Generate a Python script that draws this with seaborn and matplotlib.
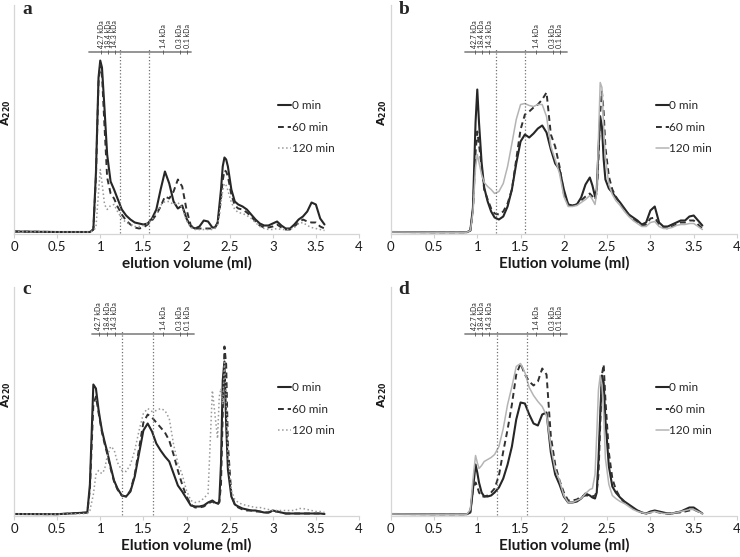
import numpy as np
import pandas as pd
import matplotlib
matplotlib.use("Agg")
import matplotlib.pyplot as plt
import seaborn as sns

# elution volume grid (ml) shared by all chromatograms
X_ML = [0, 0.5, 0.85, 0.88, 0.92, 0.95, 0.98, 1.0, 1.02, 1.05,
        1.08, 1.12, 1.16, 1.2, 1.25, 1.3, 1.35, 1.4, 1.45, 1.5,
        1.55, 1.6, 1.65, 1.7, 1.75, 1.8, 1.85, 1.9, 1.95, 2.0,
        2.05, 2.1, 2.15, 2.2, 2.25, 2.3, 2.33, 2.36,
        2.38, 2.4, 2.42, 2.44, 2.46, 2.48, 2.52, 2.56, 2.6, 2.65,
        2.7, 2.75, 2.8, 2.85, 2.9, 2.95, 3.0, 3.05, 3.1, 3.15,
        3.2, 3.25, 3.3, 3.35, 3.4, 3.45, 3.5, 3.55, 3.6]

# A220 (arbitrary units)
A_0 = [1, 0.5, 0.5, 0.5, 3, 60, 155, 172, 165, 123,
       78, 51, 43, 34, 23, 17, 13, 10, 9, 8,
       9, 14, 23, 43, 61, 49, 31, 24, 27, 14,
       6, 4, 6, 12, 11, 5, 5, 9,
       26, 43, 66, 75, 73, 66, 43, 31, 28, 26,
       23, 18, 13, 9, 7, 7, 9, 11, 7, 4,
       4, 8, 13, 16, 21, 30, 28, 14, 8]
A_60 = [1, 0.5, 0.5, 0.5, 3, 55, 150, 168, 158, 105,
        55, 39, 34, 26, 18, 12, 8, 5, 4, 5,
        8, 12, 18, 26, 36, 34, 41, 53, 46, 23,
        7, 4, 4, 4, 4, 4, 5, 10,
        20, 35, 52, 62, 61, 56, 38, 27, 24, 23,
        20, 16, 11, 7, 5, 5, 6, 8, 5, 3,
        3, 6, 10, 13, 11, 10, 10, 6, 4]
A_120 = [1, 0.5, 0.5, 0.5, 2, 5, 40, 63, 50, 28,
         23, 27, 28, 21, 14, 10, 8, 6, 6, 7,
         9, 13, 19, 27, 31, 31, 28, 30, 25, 12,
         5, 3, 3, 3, 3, 3, 4, 8,
         16, 30, 42, 49, 47, 42, 30, 23, 20, 19,
         17, 14, 10, 6, 4, 3, 3, 4, 3, 3,
         3, 5, 9, 10, 7, 5, 4, 3, 2]

B_0 = [0.5, 0.3, 0.3, 0.3, 2, 25, 110, 143, 110, 70,
       45, 31, 21, 15, 13, 16, 26, 43, 69, 91,
       98, 95, 99, 104, 107, 100, 83, 69, 63, 43,
       28, 27, 28, 35, 48, 55, 47, 36,
       43, 83, 116, 106, 73, 53, 44, 40, 35, 30,
       24, 18, 15, 12, 8, 10, 22, 26, 10, 6,
       6, 8, 10, 12, 12, 16, 17, 12, 7]
B_60 = [0.5, 0.3, 0.3, 0.3, 2, 22, 80, 101, 88, 66,
        43, 33, 24, 19, 18, 21, 29, 43, 73, 103,
        118, 121, 125, 128, 133, 140, 98, 86, 66, 39,
        28, 27, 28, 32, 36, 39, 36, 33,
        40, 75, 120, 141, 120, 85, 56, 43, 36, 29,
        23, 18, 13, 10, 7, 8, 14, 15, 8, 5,
        4, 6, 8, 10, 10, 12, 12, 8, 4]
B_120 = [0.5, 0.3, 0.3, 0.3, 2, 20, 65, 78, 70, 58,
         50, 46, 43, 39, 41, 49, 66, 89, 113, 128,
         129, 127, 126, 128, 128, 116, 86, 73, 59, 36,
         26, 26, 27, 30, 33, 37, 33, 28,
         40, 95, 150, 145, 105, 75, 48, 38, 32, 27,
         21, 16, 12, 9, 6, 6, 10, 11, 6, 4,
         4, 5, 7, 8, 8, 9, 9, 6, 3]

C_0 = [0.5, 0.3, 2, 30, 130, 126, 105, 94, 84, 73,
       63, 48, 34, 26, 19, 18, 23, 38, 61, 84,
       91, 83, 71, 64, 58, 53, 41, 29, 23, 16,
       9, 8, 8, 9, 12, 14, 12, 11,
       13, 51, 134, 153, 90, 45, 18, 10, 8, 6,
       5, 4, 4, 3, 2, 2, 4, 3, 2, 1,
       1, 1, 1, 1, 1, 1, 1, 1, 0.5]
C_60 = [0.5, 0.3, 2, 25, 110, 118, 102, 92, 82, 71,
        61, 46, 33, 25, 19, 18, 24, 40, 66, 92,
        100, 97, 92, 87, 82, 74, 60, 44, 30, 18,
        10, 7, 7, 8, 11, 13, 11, 10,
        12, 30, 100, 168, 150, 70, 20, 10, 7, 5,
        4, 4, 3, 3, 2, 2, 3, 3, 2, 1,
        1, 1, 1, 1, 1, 1, 1, 1, 0.5]
C_120 = [0.5, 0.3, 1, 4, 20, 40, 44, 42, 41, 45,
         58, 68, 65, 52, 44, 43, 50, 64, 84, 101,
         106, 103, 104, 106, 104, 96, 70, 51, 40, 24,
         14, 12, 13, 16, 21, 124, 100, 76,
         118, 126, 110, 152, 118, 60, 24, 15, 12, 10,
         9, 8, 7, 7, 6, 5, 4, 4, 4, 4,
         4, 4, 6, 6, 5, 4, 3, 3, 2]

D_0 = [0.5, 0.3, 0.3, 0.3, 2, 25, 50, 42, 32, 22,
       18, 18, 19, 22, 27, 36, 50, 68, 95, 112,
       111, 100, 91, 89, 100, 102, 62, 40, 30, 18,
       12, 12, 13, 16, 21, 19, 17, 16,
       22, 55, 100, 139, 132, 95, 48, 28, 22, 17,
       13, 10, 7, 4, 2, 1, 3, 4, 3, 2,
       1, 1, 2, 3, 5, 7, 7, 4, 1]
D_60 = [0.5, 0.3, 0.3, 0.3, 3, 25, 32, 28, 22, 18,
        18, 19, 22, 26, 39, 63, 85, 110, 140, 151,
        140, 133, 129, 133, 146, 140, 78, 50, 34, 22,
        14, 14, 15, 18, 19, 19, 18, 19,
        23, 40, 89, 140, 150, 115, 62, 36, 25, 17,
        12, 9, 6, 4, 2, 1, 2, 3, 2, 1,
        1, 1, 2, 2, 3, 4, 5, 3, 1]
D_120 = [0.5, 0.3, 0.3, 0.3, 5, 35, 59, 52, 46, 49,
         53, 55, 57, 60, 68, 86, 110, 128, 148, 151,
         142, 127, 119, 113, 108, 99, 68, 45, 34, 19,
         12, 12, 14, 16, 21, 25, 26, 40,
         80, 125, 139, 130, 100, 56, 30, 19, 16, 13,
         11, 8, 5, 3, 2, 1, 2, 3, 2, 1,
         1, 1, 2, 3, 4, 5, 5, 3, 1]

TIME_LABELS = ["0 min", "60 min", "120 min"]
XTICKS = [0, 0.5, 1, 1.5, 2, 2.5, 3, 3.5, 4]
XTICK_LABELS = ["0", "0.5", "1", "1.5", "2", "2.5", "3", "3.5", "4"]
XLABELS = ["elution volume (ml)", "Elution volume (ml)",
           "Elution volume (ml)", "Elution volume (ml)"]
PANEL_LETTERS = ["a", "b", "c", "d"]

# molecular weight calibration shown above each chromatogram
KDA_LABELS = ["42.7 kDa", "18.4 kDa", "14.3 kDa", "1.4 kDa", "0.3 kDa", "0.1 kDa"]
KDA_POS = {"a": [1.01, 1.09, 1.17, 1.73, 1.92, 2.01],
           "b": [0.97, 1.05, 1.14, 1.68, 1.87, 1.95],
           "c": [0.98, 1.08, 1.17, 1.73, 1.92, 2.01],
           "d": [0.97, 1.05, 1.14, 1.68, 1.87, 1.95]}
KDA_BAR = {"a": [0.87, 2.05], "b": [0.86, 2.04], "c": [0.90, 2.09], "d": [0.86, 2.04]}
CUTS = {"a": [1.23, 1.57], "b": [1.22, 1.55], "c": [1.25, 1.61], "d": [1.23, 1.57]}

SERIES = {"a": [A_0, A_60, A_120], "b": [B_0, B_60, B_120],
          "c": [C_0, C_60, C_120], "d": [D_0, D_60, D_120]}

sns.set_theme(style="white")
plt.rcParams["font.family"] = ["Lato", "DejaVu Sans"]
plt.rcParams["mathtext.fontset"] = "dejavusans"

W, H = 740, 557
fig = plt.figure(figsize=(W / 100, H / 100), dpi=100)

# axes boxes in pixels: left, top, right, bottom
boxes = {"a": (14, 5, 359, 234), "b": (390.7, 5, 737, 234),
         "c": (14, 287, 359, 516), "d": (390.7, 287, 737, 516)}
letter_pos = {"a": (27, 10), "b": (404, 10), "c": (27, 290), "d": (404, 290)}
BAR_Y = 181

for i, key in enumerate(PANEL_LETTERS):
    l, t, r, b = boxes[key]
    ax = fig.add_axes([l / W, 1 - b / H, (r - l) / W, (b - t) / H])

    gray_ls = ":" if key in ("a", "c") else "-"
    gray_col = "#9a9a9a" if key in ("a", "c") else "#b4b4b4"
    styles = [dict(color="#262626", lw=1.5, linestyle="-"),
              dict(color="#303030", lw=1.4, linestyle=(0, (3, 2))),
              dict(color=gray_col, lw=1.1, linestyle=gray_ls)]

    df = pd.DataFrame({"x": X_ML})
    for vals, lab, st in zip(SERIES[key], TIME_LABELS, styles):
        df[lab] = vals
        sns.lineplot(data=df, x="x", y=lab, ax=ax, label=lab, sort=False,
                     **st)

    # calibration bar with standards
    x0, x1 = KDA_BAR[key]
    ax.plot([x0, x1], [BAR_Y, BAR_Y], color="#8c8c8c", lw=1.3)
    ax.vlines(KDA_POS[key], BAR_Y - 2, BAR_Y + 2, color="#555555", lw=0.6)
    for p, lab in zip(KDA_POS[key], KDA_LABELS):
        ax.text(p, BAR_Y + 3.5, lab, rotation=90, ha="center", va="bottom",
                fontsize=5, color="#222222")
    ax.vlines(CUTS[key], 0, BAR_Y + 3, colors="#707070", linestyles=":", lw=0.9)

    ax.set_xlim(0, 4)
    ax.set_ylim(-1.5, 227.5)
    ax.set_xticks(XTICKS)
    ax.set_xticklabels(XTICK_LABELS)
    ax.set_yticks([])
    ax.tick_params(axis="x", length=3, width=0.8, color="#d0d0d0",
                   labelsize=9.5, labelcolor="#1a1a1a", pad=2, bottom=True)
    for s in ["top", "right"]:
        ax.spines[s].set_visible(False)
    for s in ["left", "bottom"]:
        ax.spines[s].set_color("#d6d6d6")
        ax.spines[s].set_linewidth(0.9)

    ax.set_xlabel(XLABELS[i], fontsize=11, fontweight="bold", color="#1a1a1a", labelpad=2)
    ax.set_ylabel(r"$\mathbf{A_{220}}$", fontsize=8, color="#1a1a1a")
    ax.yaxis.set_label_coords(-0.004, 0.53)

    ax.legend(loc="upper left", bbox_to_anchor=(0.765, 0.585), frameon=False,
              fontsize=8.5, handlelength=1.1, handletextpad=0.05,
              labelspacing=0.9, borderpad=0, borderaxespad=0)

    lx, ly = letter_pos[key]
    fig.text(lx / W, 1 - ly / H, key, fontsize=14, fontweight="bold",
             family="Liberation Serif", ha="center", va="center")

fig.savefig("out.png", dpi=100)
